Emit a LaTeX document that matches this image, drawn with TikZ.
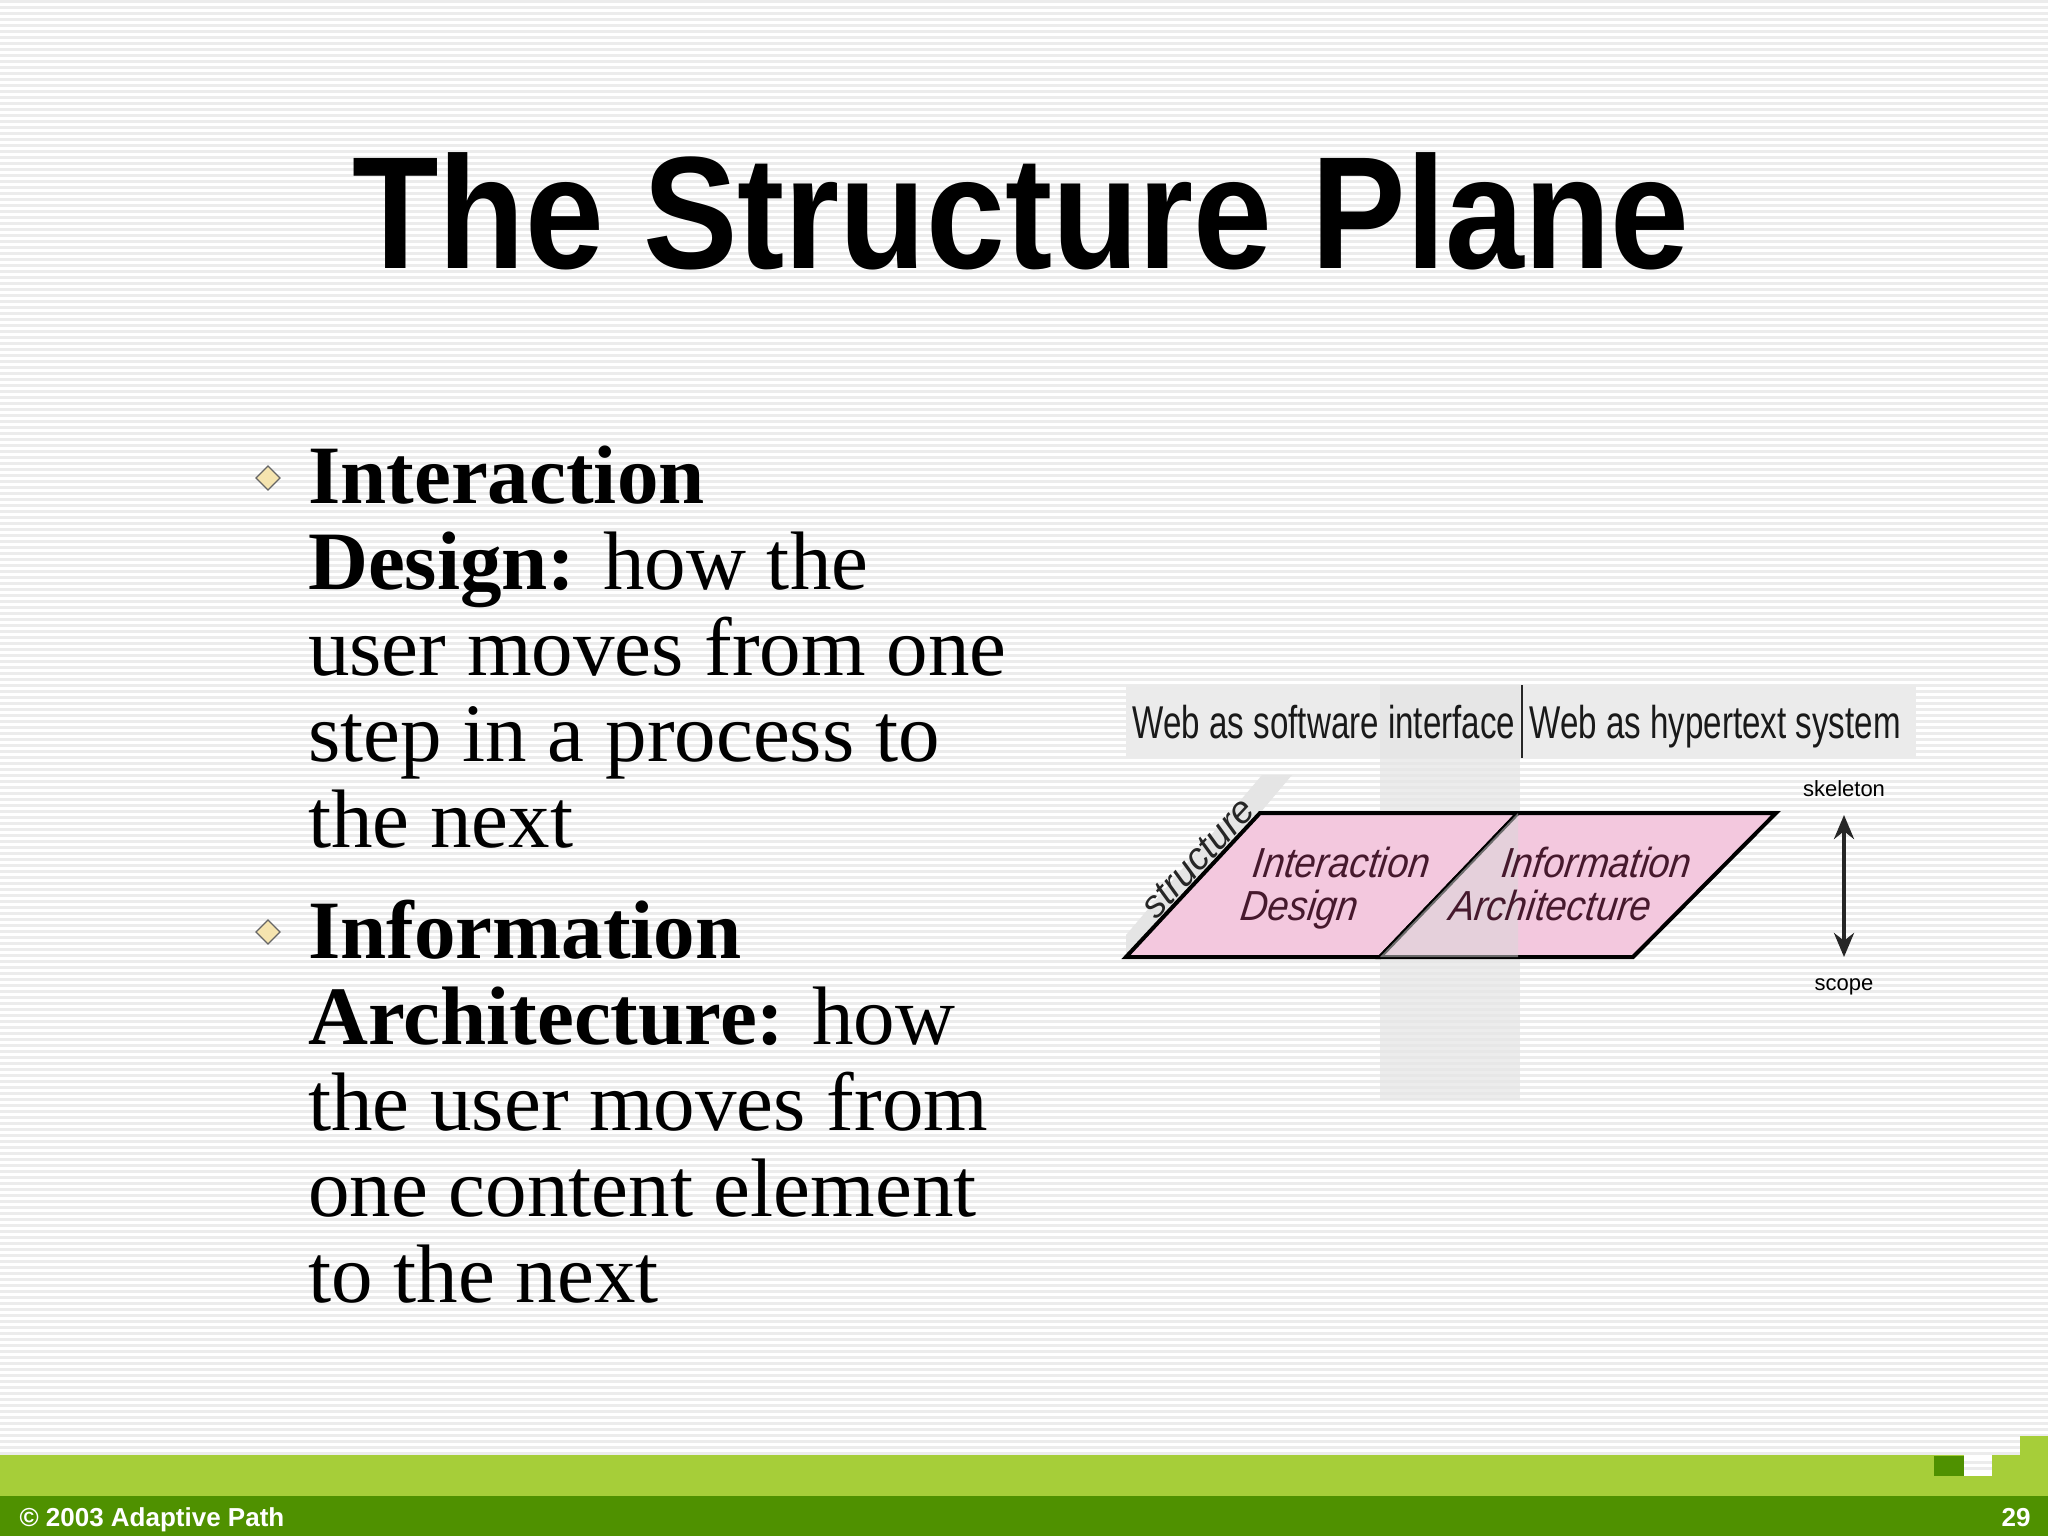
\documentclass[tikz,border=0pt]{standalone}
\usepackage{fontspec}
\usetikzlibrary{arrows.meta}
\setmainfont{Liberation Serif}
\setsansfont{Liberation Sans}
\definecolor{lgreen}{RGB}{166,206,57}
\definecolor{dgreen}{RGB}{79,145,0}
\definecolor{pinkf}{RGB}{243,200,222}
\definecolor{maroon}{RGB}{70,25,45}
\definecolor{bgg}{RGB}{236,236,236}
\definecolor{bulletc}{RGB}{245,228,175}
\begin{document}
\begin{tikzpicture}[x=1pt,y=-1pt,
  hdr/.style={font=\sffamily\fontsize{46}{46}\selectfont, xscale=0.72, anchor=base, text=black!90},
  plane/.style={fill=pinkf, draw=black, line width=4pt, line join=miter},
  lbl/.style={font=\sffamily\itshape\fontsize{42}{42}\selectfont, text=maroon, xscale=0.9, xslant=0.15, anchor=base},
  body/.style={font=\fontsize{83}{86}\selectfont, anchor=north west, align=left, inner sep=0pt},
  bul/.style={draw=black!60, line width=1.2pt, fill=bulletc}]
\useasboundingbox (0,0) rectangle (2048,1536);
\fill[white] (0,0) rectangle (2048,1536);
\foreach \i in {0,...,242} \fill[bgg] (0,{\i*6}) rectangle (2048,{\i*6+3});
% title
\node[font=\sffamily\bfseries\fontsize{160}{160}\selectfont, xscale=0.885, anchor=base] (title) at (1021,268) {The Structure Plane};
% bullets
\filldraw[bul] (256,478)--(268,466)--(280,478)--(268,490)--cycle;
\filldraw[bul] (256,932)--(268,920)--(280,932)--(268,944)--cycle;
\node[body] (b1) at (308,446) {\textbf{Interaction}\\\textbf{Design:} how the\\user moves from one\\step in a process to\\the next};
\node[body] (b2) at (308,900) {\textbf{Information}\\\textbf{Architecture:} how\\the user moves from\\one content element\\to the next};
% diagram header
\fill[black!8] (1126,685) rectangle (1916,758);
\fill[black!10, opacity=0.7] (1380,685) rectangle (1520,1100);
\draw[black!85, line width=2.5pt] (1522,685) -- (1522,758);
\node[hdr] (w1) at (1324,738) {Web as software interface};
\node[hdr] (w2) at (1715,738) {Web as hypertext system};
% planes
\fill[black!10] (1126,935) -- (1262,775) -- (1292,775) -- (1260,813) -- (1150,957) -- (1126,957) -- cycle;
\draw[plane] (1126,957) -- (1380,957) -- (1518,813) -- (1260,813) -- cycle;
\draw[plane] (1380,957) -- (1633,957) -- (1776,813) -- (1518,813) -- cycle;
\fill[black!15, opacity=0.5] (1380,957) -- (1518,813) -- (1518,957) -- cycle;
\node[font=\sffamily\itshape\fontsize{38}{38}\selectfont, rotate=47, text=black!85] (st) at (1198,858) {structure};
\node[lbl] (id1) at (1340,877) {Interaction};
\node[lbl] (id2) at (1298,920) {Design};
\node[lbl] (ia1) at (1595,877) {Information};
\node[lbl] (ia2) at (1549,920) {Architecture};
% arrow
\node[font=\sffamily\fontsize{22}{22}\selectfont] (sk) at (1844,789) {skeleton};
\node[font=\sffamily\fontsize{22}{22}\selectfont] (sc) at (1844,987) {scope};
\draw[line width=4pt, black!85, {Stealth[length=24pt,width=20pt]}-{Stealth[length=24pt,width=20pt]}] (1844,815) -- (1844,957);
% footer
\fill[lgreen] (0,1455) rectangle (2048,1496);
\fill[lgreen] (2020,1436) rectangle (2048,1455);
\fill[dgreen] (1934,1456) rectangle (1964,1476);
\fill[white] (1964,1455) rectangle (1992,1476);
\fill[bgg] (1964,1461) rectangle (1992,1464);
\fill[bgg] (1964,1467) rectangle (1992,1470);
\fill[dgreen] (0,1496) rectangle (2048,1536);
\node[font=\sffamily\bfseries\fontsize{26}{26}\selectfont, text=white, anchor=base west] (cp) at (16,1526) {© 2003 Adaptive Path};
\node[font=\sffamily\bfseries\fontsize{26}{26}\selectfont, text=white, anchor=base east] (pg) at (2034,1526) {29};
\end{tikzpicture}
\end{document}
